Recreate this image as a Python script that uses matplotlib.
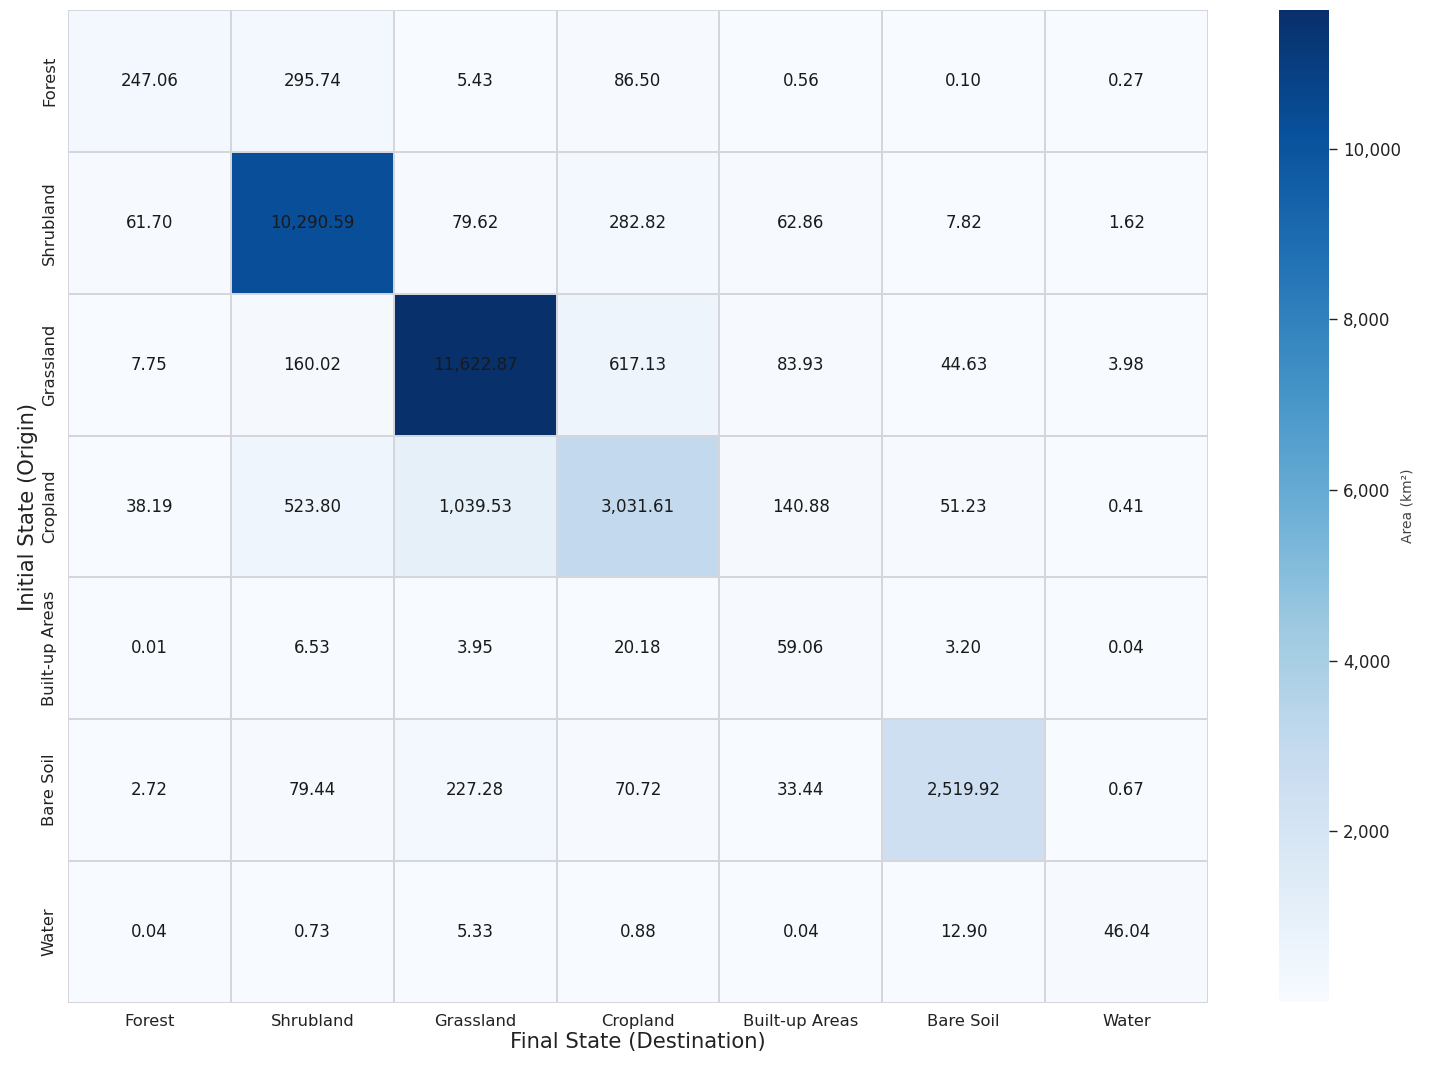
import numpy as np
import matplotlib
matplotlib.use("Agg")
import matplotlib.pyplot as plt
import seaborn as sns

classes = ["Forest", "Shrubland", "Grassland", "Cropland",
           "Built-up Areas", "Bare Soil", "Water"]

# rows = initial state, columns = final state (km²)
forest = [247.06, 295.74, 5.43, 86.50, 0.56, 0.10, 0.27]
shrubland = [61.70, 10290.59, 79.62, 282.82, 62.86, 7.82, 1.62]
grassland = [7.75, 160.02, 11622.87, 617.13, 83.93, 44.63, 3.98]
cropland = [38.19, 523.80, 1039.53, 3031.61, 140.88, 51.23, 0.41]
builtup = [0.01, 6.53, 3.95, 20.18, 59.06, 3.20, 0.04]
bare_soil = [2.72, 79.44, 227.28, 70.72, 33.44, 2519.92, 0.67]
water = [0.04, 0.73, 5.33, 0.88, 0.04, 12.90, 46.04]

matrix = np.array([forest, shrubland, grassland, cropland,
                   builtup, bare_soil, water])
labels = np.vectorize(lambda v: f"{v:,.2f}")(matrix)

fig = plt.figure(figsize=(14.29, 10.67), dpi=100)
ax = fig.add_axes([0.0476, 0.06, 0.7977, 0.9306])
cax = fig.add_axes([0.895, 0.0609, 0.035, 0.9297])

sns.heatmap(matrix, ax=ax, cbar_ax=cax, cmap="Blues",
            annot=labels, fmt="", annot_kws={"size": 12, "color": "#1a1a1a"},
            linewidths=1.2, linecolor="#d4d6db",
            xticklabels=classes, yticklabels=classes)

ax.tick_params(length=0, labelsize=11.8, colors="#222222", pad=8)
ax.set_yticklabels(classes, rotation=90, va="center")
ax.set_xlabel("Final State (Destination)", fontsize=15.2, color="#222222", labelpad=2)
ax.set_ylabel("Initial State (Origin)", fontsize=15.2, color="#222222", labelpad=3)

cbar = ax.collections[0].colorbar
cbar.set_ticks([2000, 4000, 6000, 8000, 10000])
cbar.set_ticklabels(["2,000", "4,000", "6,000", "8,000", "10,000"])
cbar.ax.tick_params(labelsize=12, colors="#222222", length=6, width=1, pad=4)
cbar.outline.set_visible(False)
cbar.set_label("Area (km²)", fontsize=10, color="#444444", labelpad=0)

fig.savefig("out.png", dpi=100)
